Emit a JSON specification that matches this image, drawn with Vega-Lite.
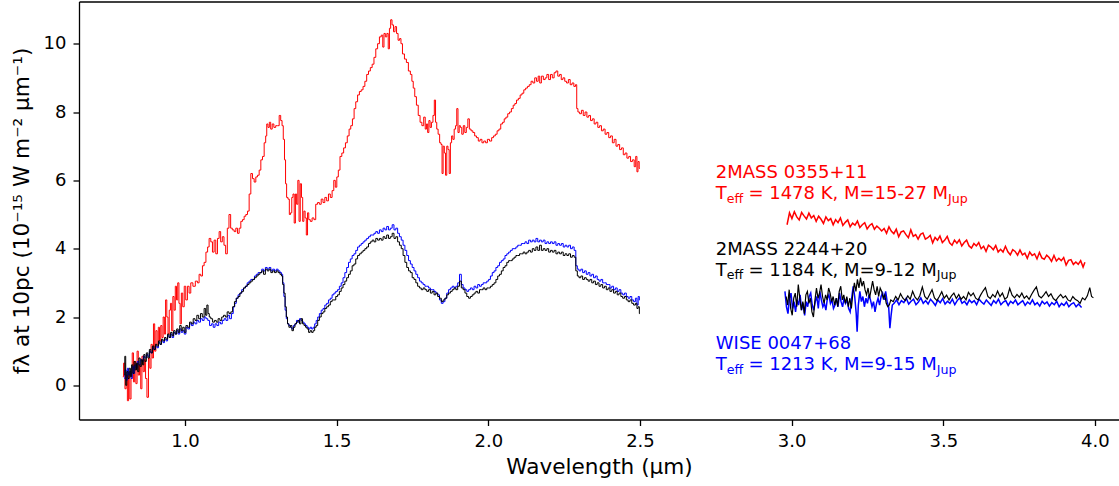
{
  "$schema": "https://vega.github.io/schema/vega-lite/v6.json",
  "autosize": "none",
  "width": 1040,
  "height": 418,
  "padding": {"left": 79, "top": 1.5, "right": 0, "bottom": 66.5},
  "background": "#ffffff",
  "config": {
    "font": "DejaVu Sans",
    "view": {"stroke": null},
    "axis": {"grid": false, "domainColor": "#000000", "domainWidth": 1.3, "tickColor": "#000000", "tickWidth": 1.3, "tickSize": 6, "labelColor": "#000000", "titleColor": "#000000", "labelFont": "DejaVu Sans", "titleFont": "DejaVu Sans", "labelFontSize": 18, "titleFontSize": 21.6, "titleFontWeight": "normal"}
  },
  "datasets": {
    "red_nir": [
      {"x":0.795,"y":0.25},{"x":0.8,"y":0.65},{"x":0.804,"y":-0.1},{"x":0.808,"y":0.3},{"x":0.812,"y":-0.45},{"x":0.816,"y":0.4},{"x":0.82,"y":-0.4},{"x":0.824,"y":0.2},{"x":0.828,"y":0.95},{"x":0.832,"y":0.1},{"x":0.836,"y":0.7},{"x":0.84,"y":0.05},{"x":0.844,"y":1.0},{"x":0.848,"y":0.3},{"x":0.852,"y":0.6},{"x":0.856,"y":-0.1},{"x":0.86,"y":0.85},{"x":0.864,"y":0.4},{"x":0.868,"y":0.75},{"x":0.872,"y":0.2},{"x":0.877,"y":-0.35},{"x":0.882,"y":0.8},{"x":0.886,"y":0.5},{"x":0.89,"y":1.2},{"x":0.894,"y":0.8},{"x":0.898,"y":1.8},{"x":0.902,"y":1.0},{"x":0.906,"y":1.6},{"x":0.91,"y":1.2},{"x":0.914,"y":1.7},{"x":0.918,"y":1.3},{"x":0.922,"y":1.75},{"x":0.926,"y":1.4},{"x":0.93,"y":2.0},{"x":0.934,"y":1.5},{"x":0.938,"y":2.5},{"x":0.942,"y":2.0},{"x":0.946,"y":1.5},{"x":0.95,"y":2.2},{"x":0.954,"y":2.4},{"x":0.958,"y":1.6},{"x":0.962,"y":2.6},{"x":0.966,"y":2.2},{"x":0.97,"y":2.9},{"x":0.974,"y":2.5},{"x":0.978,"y":3.0},{"x":0.982,"y":2.4},{"x":0.986,"y":1.8},{"x":0.99,"y":2.7},{"x":0.995,"y":2.3},{"x":1.0,"y":2.9},
      {"x":1.005,"y":2.5},{"x":1.011,"y":2.9},{"x":1.016,"y":2.7},{"x":1.022,"y":3.0},{"x":1.03,"y":2.9},{"x":1.038,"y":3.05},{"x":1.044,"y":3.0},{"x":1.049,"y":3.25},{"x":1.055,"y":3.2},{"x":1.06,"y":3.5},{"x":1.066,"y":3.6},{"x":1.072,"y":3.9},{"x":1.077,"y":4.05},{"x":1.082,"y":4.3},{"x":1.088,"y":4.2},{"x":1.093,"y":3.9},{"x":1.099,"y":4.25},{"x":1.104,"y":3.85},{"x":1.11,"y":4.3},{"x":1.115,"y":4.5},{"x":1.12,"y":4.2},{"x":1.126,"y":4.35},{"x":1.131,"y":4.1},{"x":1.137,"y":3.85},{"x":1.142,"y":4.6},{"x":1.148,"y":5.0},{"x":1.153,"y":4.6},{"x":1.159,"y":4.55},{"x":1.165,"y":4.5},{"x":1.17,"y":4.6},{"x":1.176,"y":4.45},{"x":1.181,"y":4.6},{"x":1.187,"y":4.8},{"x":1.192,"y":4.85},{"x":1.198,"y":4.95},{"x":1.203,"y":5.0},{"x":1.209,"y":5.1},{"x":1.214,"y":5.6},{"x":1.22,"y":6.2},{"x":1.225,"y":6.05},{"x":1.231,"y":5.95},{"x":1.236,"y":6.1},{"x":1.242,"y":6.15},{"x":1.247,"y":6.3},{"x":1.253,"y":6.6},{"x":1.258,"y":6.7},{"x":1.264,"y":7.1},{"x":1.268,"y":7.3},{"x":1.271,"y":7.65},{"x":1.276,"y":7.55},{"x":1.28,"y":7.7},{"x":1.285,"y":7.5},{"x":1.29,"y":7.65},{"x":1.296,"y":7.55},{"x":1.302,"y":7.6},{"x":1.308,"y":7.6},{"x":1.313,"y":7.9},{"x":1.318,"y":7.75},{"x":1.322,"y":7.6},{"x":1.326,"y":7.2},{"x":1.33,"y":6.6},{"x":1.333,"y":5.9},{"x":1.337,"y":5.5},{"x":1.342,"y":5.45},{"x":1.346,"y":5.0},{"x":1.35,"y":5.05},{"x":1.354,"y":5.5},{"x":1.358,"y":5.6},{"x":1.362,"y":4.75},{"x":1.366,"y":5.6},{"x":1.37,"y":5.3},{"x":1.374,"y":6.0},{"x":1.378,"y":4.8},{"x":1.382,"y":5.9},{"x":1.386,"y":5.5},{"x":1.39,"y":4.8},{"x":1.394,"y":5.1},{"x":1.398,"y":4.9},{"x":1.402,"y":4.4},{"x":1.406,"y":5.05},{"x":1.41,"y":4.85},{"x":1.416,"y":4.8},{"x":1.422,"y":4.9},{"x":1.428,"y":4.85},{"x":1.434,"y":5.3},{"x":1.44,"y":5.35},{"x":1.446,"y":5.3},{"x":1.452,"y":5.45},{"x":1.458,"y":5.35},{"x":1.464,"y":5.5},{"x":1.47,"y":5.4},{"x":1.476,"y":5.6},{"x":1.482,"y":5.5},{"x":1.488,"y":5.7},{"x":1.493,"y":6.0},{"x":1.498,"y":5.8},{"x":1.503,"y":6.1},{"x":1.508,"y":6.3},{"x":1.514,"y":6.7},{"x":1.52,"y":6.8},{"x":1.526,"y":6.95},{"x":1.532,"y":7.1},{"x":1.538,"y":7.3},{"x":1.544,"y":7.5},{"x":1.549,"y":7.6},{"x":1.555,"y":7.8},{"x":1.56,"y":8.1},{"x":1.566,"y":8.3},{"x":1.572,"y":8.5},{"x":1.578,"y":8.6},{"x":1.584,"y":8.65},{"x":1.59,"y":8.75},{"x":1.596,"y":8.9},{"x":1.602,"y":9.1},{"x":1.608,"y":9.2},{"x":1.614,"y":9.3},{"x":1.62,"y":9.4},{"x":1.626,"y":9.6},{"x":1.632,"y":9.85},{"x":1.638,"y":10.0},{"x":1.644,"y":10.2},{"x":1.65,"y":10.25},{"x":1.654,"y":9.9},{"x":1.658,"y":10.3},{"x":1.663,"y":10.2},{"x":1.668,"y":10.3},{"x":1.672,"y":9.85},{"x":1.676,"y":10.45},{"x":1.68,"y":10.7},{"x":1.685,"y":10.55},{"x":1.69,"y":10.35},{"x":1.695,"y":10.5},{"x":1.7,"y":10.3},{"x":1.705,"y":10.1},{"x":1.71,"y":10.15},{"x":1.714,"y":10.0},{"x":1.72,"y":9.7},{"x":1.727,"y":9.55},{"x":1.733,"y":9.45},{"x":1.74,"y":9.2},{"x":1.746,"y":9.1},{"x":1.75,"y":8.9},{"x":1.755,"y":8.7},{"x":1.76,"y":8.45},{"x":1.766,"y":8.2},{"x":1.772,"y":7.9},{"x":1.778,"y":7.7},{"x":1.784,"y":7.6},{"x":1.79,"y":7.85},{"x":1.794,"y":7.5},{"x":1.798,"y":7.65},{"x":1.802,"y":7.4},{"x":1.806,"y":7.75},{"x":1.81,"y":7.55},{"x":1.815,"y":7.7},{"x":1.82,"y":7.9},{"x":1.824,"y":8.35},{"x":1.828,"y":7.7},{"x":1.832,"y":7.5},{"x":1.837,"y":7.35},{"x":1.842,"y":7.1},{"x":1.846,"y":7.05},{"x":1.849,"y":6.2},{"x":1.853,"y":7.0},{"x":1.857,"y":6.8},{"x":1.861,"y":6.15},{"x":1.865,"y":7.0},{"x":1.869,"y":6.9},{"x":1.873,"y":6.2},{"x":1.877,"y":7.1},{"x":1.881,"y":7.3},{"x":1.885,"y":7.2},{"x":1.89,"y":7.5},{"x":1.894,"y":7.6},{"x":1.898,"y":8.1},{"x":1.902,"y":7.4},{"x":1.906,"y":7.6},{"x":1.91,"y":7.55},{"x":1.915,"y":7.35},{"x":1.92,"y":7.6},{"x":1.925,"y":7.4},{"x":1.93,"y":7.55},{"x":1.935,"y":7.8},{"x":1.94,"y":7.5},{"x":1.946,"y":7.45},{"x":1.952,"y":7.4},{"x":1.958,"y":7.3},{"x":1.964,"y":7.25},{"x":1.97,"y":7.15},{"x":1.976,"y":7.2},{"x":1.982,"y":7.1},{"x":1.988,"y":7.15},{"x":1.994,"y":7.1},{"x":2.0,"y":7.2},{"x":2.008,"y":7.15},{"x":2.014,"y":7.25},{"x":2.02,"y":7.3},{"x":2.026,"y":7.35},{"x":2.032,"y":7.45},{"x":2.038,"y":7.5},{"x":2.044,"y":7.65},{"x":2.05,"y":7.7},{"x":2.055,"y":7.8},{"x":2.061,"y":7.85},{"x":2.067,"y":7.95},{"x":2.073,"y":8.0},{"x":2.079,"y":8.1},{"x":2.085,"y":8.2},{"x":2.09,"y":8.25},{"x":2.096,"y":8.35},{"x":2.102,"y":8.4},{"x":2.108,"y":8.5},{"x":2.114,"y":8.55},{"x":2.12,"y":8.65},{"x":2.126,"y":8.7},{"x":2.132,"y":8.75},{"x":2.138,"y":8.8},{"x":2.144,"y":8.9},{"x":2.15,"y":8.85},{"x":2.156,"y":9.0},{"x":2.162,"y":8.9},{"x":2.167,"y":9.05},{"x":2.172,"y":8.85},{"x":2.178,"y":9.05},{"x":2.185,"y":8.95},{"x":2.19,"y":9.0},{"x":2.196,"y":9.1},{"x":2.202,"y":8.95},{"x":2.208,"y":9.1},{"x":2.214,"y":9.0},{"x":2.22,"y":9.15},{"x":2.226,"y":9.2},{"x":2.232,"y":9.05},{"x":2.238,"y":9.1},{"x":2.243,"y":8.95},{"x":2.249,"y":9.0},{"x":2.255,"y":8.9},{"x":2.261,"y":8.85},{"x":2.267,"y":8.95},{"x":2.273,"y":8.8},{"x":2.279,"y":8.85},{"x":2.285,"y":8.75},{"x":2.29,"y":8.8},{"x":2.293,"y":8.1},{"x":2.298,"y":8.0},{"x":2.304,"y":7.95},{"x":2.31,"y":8.05},{"x":2.316,"y":7.9},{"x":2.322,"y":8.0},{"x":2.328,"y":7.85},{"x":2.334,"y":7.9},{"x":2.34,"y":7.75},{"x":2.346,"y":7.8},{"x":2.352,"y":7.65},{"x":2.358,"y":7.7},{"x":2.364,"y":7.55},{"x":2.37,"y":7.6},{"x":2.376,"y":7.45},{"x":2.382,"y":7.5},{"x":2.388,"y":7.35},{"x":2.394,"y":7.4},{"x":2.4,"y":7.25},{"x":2.406,"y":7.3},{"x":2.412,"y":7.1},{"x":2.418,"y":7.2},{"x":2.424,"y":7.0},{"x":2.43,"y":7.05},{"x":2.436,"y":6.9},{"x":2.442,"y":6.95},{"x":2.448,"y":6.75},{"x":2.454,"y":6.8},{"x":2.46,"y":6.65},{"x":2.466,"y":6.7},{"x":2.472,"y":6.55},{"x":2.478,"y":6.6},{"x":2.484,"y":6.4},{"x":2.488,"y":6.7},{"x":2.492,"y":6.25},{"x":2.495,"y":6.55},{"x":2.5,"y":6.35}
    ],
    "red_l": [
      {"x":2.985,"y":4.7},{"x":2.993,"y":5.05},{"x":3.001,"y":4.88},{"x":3.009,"y":5.08},{"x":3.017,"y":4.93},{"x":3.025,"y":4.84},{"x":3.033,"y":5.06},{"x":3.041,"y":4.96},{"x":3.049,"y":4.87},{"x":3.057,"y":5.04},{"x":3.065,"y":4.9},{"x":3.073,"y":4.97},{"x":3.081,"y":4.8},{"x":3.089,"y":4.95},{"x":3.097,"y":4.86},{"x":3.105,"y":4.74},{"x":3.113,"y":4.93},{"x":3.121,"y":4.82},{"x":3.129,"y":4.88},{"x":3.137,"y":4.7},{"x":3.145,"y":4.85},{"x":3.153,"y":4.76},{"x":3.161,"y":4.9},{"x":3.169,"y":4.68},{"x":3.177,"y":4.77},{"x":3.185,"y":4.84},{"x":3.193,"y":4.64},{"x":3.201,"y":4.75},{"x":3.209,"y":4.69},{"x":3.217,"y":4.81},{"x":3.225,"y":4.62},{"x":3.233,"y":4.7},{"x":3.241,"y":4.76},{"x":3.249,"y":4.58},{"x":3.257,"y":4.68},{"x":3.265,"y":4.73},{"x":3.273,"y":4.57},{"x":3.281,"y":4.66},{"x":3.289,"y":4.6},{"x":3.297,"y":4.52},
      {"x":3.305,"y":4.59},{"x":3.313,"y":4.45},{"x":3.321,"y":4.64},{"x":3.329,"y":4.51},{"x":3.337,"y":4.44},{"x":3.345,"y":4.57},{"x":3.353,"y":4.35},{"x":3.361,"y":4.49},{"x":3.369,"y":4.52},{"x":3.377,"y":4.41},{"x":3.385,"y":4.32},{"x":3.393,"y":4.55},{"x":3.401,"y":4.36},{"x":3.409,"y":4.41},{"x":3.417,"y":4.28},{"x":3.425,"y":4.42},{"x":3.433,"y":4.46},{"x":3.441,"y":4.28},{"x":3.449,"y":4.32},{"x":3.457,"y":4.39},{"x":3.465,"y":4.17},{"x":3.473,"y":4.33},{"x":3.481,"y":4.25},{"x":3.489,"y":4.37},{"x":3.497,"y":4.18},{"x":3.505,"y":4.25},{"x":3.513,"y":4.36},{"x":3.521,"y":4.17},{"x":3.529,"y":4.1},{"x":3.537,"y":4.25},{"x":3.545,"y":4.16},{"x":3.553,"y":4.26},{"x":3.561,"y":4.08},{"x":3.569,"y":4.18},{"x":3.577,"y":4.25},{"x":3.585,"y":4.08},{"x":3.593,"y":4.02},{"x":3.601,"y":4.15},{"x":3.609,"y":4.08},{"x":3.617,"y":4.18},{"x":3.625,"y":4.0},{"x":3.633,"y":4.07},{"x":3.641,"y":3.92},{"x":3.649,"y":4.1},{"x":3.657,"y":4.05},{"x":3.665,"y":3.97},{"x":3.673,"y":4.09},{"x":3.681,"y":3.9},{"x":3.689,"y":3.98},{"x":3.697,"y":3.9},{"x":3.705,"y":4.07},{"x":3.713,"y":3.91},{"x":3.721,"y":3.82},{"x":3.729,"y":3.97},{"x":3.737,"y":3.92},{"x":3.745,"y":3.81},{"x":3.753,"y":3.96},{"x":3.761,"y":3.82},{"x":3.769,"y":3.87},{"x":3.777,"y":3.72},{"x":3.785,"y":3.9},{"x":3.793,"y":3.8},{"x":3.801,"y":3.85},{"x":3.809,"y":3.7},{"x":3.817,"y":3.89},{"x":3.825,"y":3.73},{"x":3.833,"y":3.69},{"x":3.841,"y":3.81},{"x":3.849,"y":3.74},{"x":3.857,"y":3.63},{"x":3.865,"y":3.8},{"x":3.873,"y":3.64},{"x":3.881,"y":3.72},{"x":3.889,"y":3.65},{"x":3.897,"y":3.74},{"x":3.905,"y":3.52},{"x":3.913,"y":3.66},{"x":3.921,"y":3.68},{"x":3.929,"y":3.54},{"x":3.937,"y":3.61},{"x":3.945,"y":3.54},{"x":3.953,"y":3.65},{"x":3.961,"y":3.46},{"x":3.967,"y":3.6}
    ],
    "black_nir": [
      {"x":0.8,"y":0.3},{"x":0.803,"y":0.85},{"x":0.806,"y":0.0},{"x":0.81,"y":0.4},{"x":0.814,"y":0.2},{"x":0.818,"y":0.5},{"x":0.822,"y":0.25},{"x":0.826,"y":0.6},{"x":0.83,"y":0.35},{"x":0.834,"y":0.7},{"x":0.838,"y":0.45},{"x":0.842,"y":0.65},{"x":0.846,"y":0.4},{"x":0.85,"y":0.8},{"x":0.854,"y":0.55},{"x":0.858,"y":0.75},{"x":0.862,"y":0.6},{"x":0.866,"y":0.9},{"x":0.87,"y":0.7},{"x":0.875,"y":0.95},{"x":0.88,"y":0.8},{"x":0.885,"y":1.05},{"x":0.89,"y":0.95},{"x":0.895,"y":1.15},{"x":0.9,"y":1.05},{"x":0.905,"y":1.2},{"x":0.91,"y":1.15},{"x":0.915,"y":1.3},{"x":0.92,"y":1.2},{"x":0.925,"y":1.35},{"x":0.93,"y":1.3},{"x":0.935,"y":1.4},{"x":0.94,"y":1.35},{"x":0.945,"y":1.5},{"x":0.95,"y":1.4},{"x":0.955,"y":1.55},{"x":0.96,"y":1.45},{"x":0.965,"y":1.6},{"x":0.97,"y":1.5},{"x":0.975,"y":1.65},{"x":0.98,"y":1.55},{"x":0.985,"y":1.75},{"x":0.99,"y":1.6},{"x":0.995,"y":1.7},{"x":1.0,"y":1.55},{"x":1.006,"y":1.75},{"x":1.012,"y":1.7},{"x":1.018,"y":1.85},{"x":1.024,"y":1.8},{"x":1.03,"y":1.95},{"x":1.036,"y":1.9},{"x":1.042,"y":2.05},{"x":1.048,"y":1.95},{"x":1.054,"y":2.1},{"x":1.06,"y":2.0},{"x":1.066,"y":2.25},{"x":1.07,"y":2.05},{"x":1.074,"y":2.35},{"x":1.078,"y":2.1},{"x":1.082,"y":2.0},{"x":1.088,"y":1.95},{"x":1.094,"y":1.85},{"x":1.1,"y":1.9},{"x":1.106,"y":1.85},{"x":1.112,"y":1.95},{"x":1.118,"y":1.9},{"x":1.124,"y":2.0},{"x":1.13,"y":2.05},{"x":1.136,"y":2.0},{"x":1.142,"y":2.15},{"x":1.148,"y":2.1},{"x":1.154,"y":2.15},{"x":1.16,"y":2.3},{"x":1.166,"y":2.45},{"x":1.172,"y":2.55},{"x":1.178,"y":2.6},{"x":1.184,"y":2.7},{"x":1.19,"y":2.75},{"x":1.196,"y":2.85},{"x":1.202,"y":2.9},{"x":1.208,"y":2.95},{"x":1.214,"y":3.0},{"x":1.22,"y":3.05},{"x":1.226,"y":3.1},{"x":1.232,"y":3.15},{"x":1.238,"y":3.2},{"x":1.244,"y":3.25},{"x":1.25,"y":3.3},{"x":1.256,"y":3.35},{"x":1.262,"y":3.25},{"x":1.268,"y":3.4},{"x":1.274,"y":3.35},{"x":1.28,"y":3.4},{"x":1.286,"y":3.3},{"x":1.292,"y":3.35},{"x":1.298,"y":3.3},{"x":1.304,"y":3.35},{"x":1.31,"y":3.3},{"x":1.316,"y":3.25},{"x":1.32,"y":3.2},{"x":1.324,"y":2.95},{"x":1.328,"y":2.7},{"x":1.332,"y":2.3},{"x":1.336,"y":2.0},{"x":1.34,"y":1.8},{"x":1.345,"y":1.7},{"x":1.35,"y":1.75},{"x":1.355,"y":1.6},{"x":1.36,"y":1.7},{"x":1.365,"y":1.8},{"x":1.37,"y":1.85},{"x":1.375,"y":1.9},{"x":1.38,"y":1.8},{"x":1.385,"y":1.95},{"x":1.39,"y":1.8},{"x":1.395,"y":1.75},{"x":1.4,"y":1.7},{"x":1.405,"y":1.65},{"x":1.41,"y":1.55},{"x":1.415,"y":1.6},{"x":1.42,"y":1.55},{"x":1.425,"y":1.6},{"x":1.43,"y":1.7},{"x":1.435,"y":1.75},{"x":1.44,"y":1.9},{"x":1.446,"y":2.0},{"x":1.452,"y":2.1},{"x":1.458,"y":2.15},{"x":1.464,"y":2.25},{"x":1.47,"y":2.3},{"x":1.476,"y":2.35},{"x":1.482,"y":2.45},{"x":1.488,"y":2.5},{"x":1.494,"y":2.5},{"x":1.5,"y":2.6},{"x":1.506,"y":2.65},{"x":1.512,"y":2.75},{"x":1.518,"y":2.85},{"x":1.524,"y":2.95},{"x":1.53,"y":3.05},{"x":1.536,"y":3.15},{"x":1.542,"y":3.25},{"x":1.548,"y":3.35},{"x":1.554,"y":3.5},{"x":1.56,"y":3.55},{"x":1.566,"y":3.7},{"x":1.572,"y":3.8},{"x":1.578,"y":3.85},{"x":1.584,"y":3.9},{"x":1.59,"y":3.95},{"x":1.596,"y":4.0},{"x":1.602,"y":4.05},{"x":1.608,"y":4.15},{"x":1.614,"y":4.2},{"x":1.62,"y":4.25},{"x":1.626,"y":4.2},{"x":1.632,"y":4.3},{"x":1.638,"y":4.25},{"x":1.644,"y":4.3},{"x":1.65,"y":4.25},{"x":1.656,"y":4.35},{"x":1.662,"y":4.3},{"x":1.668,"y":4.4},{"x":1.674,"y":4.3},{"x":1.68,"y":4.35},{"x":1.686,"y":4.45},{"x":1.692,"y":4.3},{"x":1.698,"y":4.35},{"x":1.704,"y":4.2},{"x":1.71,"y":4.1},{"x":1.716,"y":4.0},{"x":1.722,"y":3.8},{"x":1.728,"y":3.6},{"x":1.734,"y":3.45},{"x":1.74,"y":3.35},{"x":1.746,"y":3.3},{"x":1.752,"y":3.15},{"x":1.758,"y":3.1},{"x":1.764,"y":3.0},{"x":1.77,"y":2.9},{"x":1.776,"y":2.85},{"x":1.782,"y":2.8},{"x":1.788,"y":2.85},{"x":1.794,"y":2.8},{"x":1.8,"y":2.75},{"x":1.806,"y":2.8},{"x":1.812,"y":2.7},{"x":1.818,"y":2.75},{"x":1.824,"y":2.65},{"x":1.83,"y":2.7},{"x":1.836,"y":2.6},{"x":1.842,"y":2.55},{"x":1.848,"y":2.45},{"x":1.854,"y":2.5},{"x":1.86,"y":2.55},{"x":1.866,"y":2.65},{"x":1.872,"y":2.7},{"x":1.878,"y":2.75},{"x":1.884,"y":2.8},{"x":1.89,"y":2.85},{"x":1.896,"y":2.8},{"x":1.902,"y":2.9},{"x":1.908,"y":3.05},{"x":1.914,"y":2.85},{"x":1.92,"y":2.8},{"x":1.926,"y":2.7},{"x":1.932,"y":2.6},{"x":1.938,"y":2.55},{"x":1.944,"y":2.6},{"x":1.95,"y":2.65},{"x":1.956,"y":2.7},{"x":1.962,"y":2.75},{"x":1.968,"y":2.7},{"x":1.974,"y":2.8},{"x":1.98,"y":2.8},{"x":1.986,"y":2.85},{"x":1.992,"y":2.8},{"x":1.998,"y":2.85},{"x":2.004,"y":2.85},{"x":2.01,"y":2.9},{"x":2.016,"y":2.95},{"x":2.022,"y":3.0},{"x":2.028,"y":3.1},{"x":2.034,"y":3.2},{"x":2.04,"y":3.25},{"x":2.046,"y":3.35},{"x":2.052,"y":3.45},{"x":2.058,"y":3.5},{"x":2.064,"y":3.6},{"x":2.07,"y":3.65},{"x":2.076,"y":3.65},{"x":2.082,"y":3.7},{"x":2.088,"y":3.75},{"x":2.094,"y":3.8},{"x":2.1,"y":3.8},{"x":2.106,"y":3.85},{"x":2.112,"y":3.85},{"x":2.118,"y":3.9},{"x":2.124,"y":3.85},{"x":2.13,"y":3.9},{"x":2.136,"y":3.95},{"x":2.142,"y":3.9},{"x":2.148,"y":4.0},{"x":2.154,"y":3.95},{"x":2.16,"y":4.05},{"x":2.166,"y":3.95},{"x":2.172,"y":4.1},{"x":2.178,"y":3.95},{"x":2.184,"y":4.0},{"x":2.19,"y":3.95},{"x":2.196,"y":4.0},{"x":2.202,"y":3.9},{"x":2.208,"y":3.95},{"x":2.214,"y":3.9},{"x":2.22,"y":3.95},{"x":2.226,"y":3.85},{"x":2.232,"y":3.9},{"x":2.238,"y":3.85},{"x":2.244,"y":3.9},{"x":2.25,"y":3.8},{"x":2.256,"y":3.85},{"x":2.262,"y":3.8},{"x":2.268,"y":3.85},{"x":2.274,"y":3.75},{"x":2.28,"y":3.8},{"x":2.286,"y":3.75},{"x":2.291,"y":3.35},{"x":2.296,"y":3.2},{"x":2.302,"y":3.15},{"x":2.308,"y":3.2},{"x":2.314,"y":3.1},{"x":2.32,"y":3.15},{"x":2.326,"y":3.1},{"x":2.332,"y":3.05},{"x":2.338,"y":3.1},{"x":2.344,"y":3.0},{"x":2.35,"y":3.05},{"x":2.356,"y":2.95},{"x":2.362,"y":3.0},{"x":2.368,"y":2.9},{"x":2.374,"y":2.95},{"x":2.38,"y":2.85},{"x":2.386,"y":2.9},{"x":2.392,"y":2.8},{"x":2.398,"y":2.85},{"x":2.404,"y":2.75},{"x":2.41,"y":2.8},{"x":2.416,"y":2.7},{"x":2.422,"y":2.75},{"x":2.428,"y":2.65},{"x":2.434,"y":2.7},{"x":2.44,"y":2.6},{"x":2.446,"y":2.55},{"x":2.452,"y":2.6},{"x":2.458,"y":2.5},{"x":2.464,"y":2.45},{"x":2.47,"y":2.5},{"x":2.476,"y":2.4},{"x":2.482,"y":2.35},{"x":2.488,"y":2.4},{"x":2.492,"y":2.25},{"x":2.496,"y":2.3},{"x":2.5,"y":2.1}
    ],
    "black_l": [
      {"x":2.982,"y":2.6},{"x":2.987,"y":2.35},{"x":2.992,"y":2.8},{"x":2.997,"y":2.25},{"x":3.002,"y":2.05},{"x":3.007,"y":2.55},{"x":3.012,"y":2.7},{"x":3.017,"y":2.3},{"x":3.022,"y":2.95},{"x":3.027,"y":2.55},{"x":3.032,"y":2.2},{"x":3.037,"y":2.45},{"x":3.042,"y":2.1},{"x":3.047,"y":2.65},{"x":3.052,"y":2.75},{"x":3.057,"y":2.4},{"x":3.062,"y":2.55},{"x":3.067,"y":2.15},{"x":3.072,"y":2.0},{"x":3.077,"y":2.5},{"x":3.082,"y":2.85},{"x":3.087,"y":2.55},{"x":3.092,"y":2.7},{"x":3.097,"y":2.95},{"x":3.102,"y":2.6},{"x":3.107,"y":2.4},{"x":3.112,"y":2.65},{"x":3.117,"y":2.5},{"x":3.122,"y":2.85},{"x":3.127,"y":2.7},{"x":3.132,"y":2.45},{"x":3.137,"y":2.6},{"x":3.142,"y":2.35},{"x":3.147,"y":2.55},{"x":3.152,"y":2.3},{"x":3.157,"y":2.75},{"x":3.162,"y":2.9},{"x":3.167,"y":2.5},{"x":3.172,"y":2.65},{"x":3.177,"y":2.4},{"x":3.182,"y":2.6},{"x":3.187,"y":2.3},{"x":3.192,"y":2.55},{"x":3.197,"y":2.25},{"x":3.202,"y":2.7},{"x":3.207,"y":3.0},{"x":3.212,"y":2.75},{"x":3.217,"y":3.1},{"x":3.222,"y":2.85},{"x":3.227,"y":3.15},{"x":3.232,"y":2.9},{"x":3.237,"y":3.05},{"x":3.242,"y":2.8},{"x":3.247,"y":2.65},{"x":3.252,"y":2.85},{"x":3.257,"y":2.55},{"x":3.262,"y":2.8},{"x":3.267,"y":3.05},{"x":3.272,"y":2.8},{"x":3.277,"y":2.65},{"x":3.282,"y":2.9},{"x":3.287,"y":2.6},{"x":3.292,"y":2.85},{"x":3.297,"y":2.75},{"x":3.302,"y":2.55},{"x":3.307,"y":2.65},{"x":3.312,"y":2.4},{"x":3.317,"y":2.3},{"x":3.322,"y":2.35},{"x":3.327,"y":2.5},
      {"x":3.335,"y":2.45},{"x":3.343,"y":2.6},{"x":3.351,"y":2.5},{"x":3.359,"y":2.68},{"x":3.367,"y":2.55},{"x":3.375,"y":2.48},{"x":3.383,"y":2.62},{"x":3.391,"y":2.52},{"x":3.399,"y":2.75},{"x":3.407,"y":2.58},{"x":3.415,"y":2.5},{"x":3.423,"y":2.63},{"x":3.431,"y":2.88},{"x":3.439,"y":2.6},{"x":3.447,"y":2.52},{"x":3.455,"y":2.66},{"x":3.463,"y":2.8},{"x":3.471,"y":2.56},{"x":3.479,"y":2.48},{"x":3.487,"y":2.6},{"x":3.495,"y":2.74},{"x":3.503,"y":2.55},{"x":3.511,"y":2.64},{"x":3.519,"y":2.5},{"x":3.527,"y":2.62},{"x":3.535,"y":2.7},{"x":3.543,"y":2.54},{"x":3.551,"y":2.66},{"x":3.559,"y":2.52},{"x":3.567,"y":2.6},{"x":3.575,"y":2.5},{"x":3.583,"y":2.72},{"x":3.591,"y":2.62},{"x":3.599,"y":2.7},{"x":3.607,"y":2.55},{"x":3.615,"y":2.5},{"x":3.623,"y":2.64},{"x":3.631,"y":2.76},{"x":3.639,"y":2.86},{"x":3.647,"y":2.6},{"x":3.655,"y":2.54},{"x":3.663,"y":2.66},{"x":3.671,"y":2.58},{"x":3.679,"y":2.76},{"x":3.687,"y":2.6},{"x":3.695,"y":2.7},{"x":3.703,"y":2.52},{"x":3.711,"y":2.58},{"x":3.719,"y":2.84},{"x":3.727,"y":2.64},{"x":3.735,"y":2.56},{"x":3.743,"y":2.66},{"x":3.751,"y":2.58},{"x":3.759,"y":2.7},{"x":3.767,"y":2.55},{"x":3.775,"y":2.62},{"x":3.783,"y":2.52},{"x":3.791,"y":2.66},{"x":3.799,"y":2.78},{"x":3.807,"y":2.88},{"x":3.815,"y":2.62},{"x":3.823,"y":2.56},{"x":3.831,"y":2.64},{"x":3.839,"y":2.74},{"x":3.847,"y":2.6},{"x":3.855,"y":2.68},{"x":3.863,"y":2.54},{"x":3.871,"y":2.48},{"x":3.879,"y":2.58},{"x":3.887,"y":2.66},{"x":3.895,"y":2.56},{"x":3.903,"y":2.62},{"x":3.911,"y":2.5},{"x":3.919,"y":2.46},{"x":3.927,"y":2.6},{"x":3.935,"y":2.52},{"x":3.943,"y":2.48},{"x":3.951,"y":2.4},{"x":3.959,"y":2.56},{"x":3.967,"y":2.5},{"x":3.975,"y":2.62},{"x":3.983,"y":2.86},{"x":3.989,"y":2.6},{"x":3.995,"y":2.56}
    ],
    "blue_nir": [
      {"x":0.8,"y":0.2},{"x":0.804,"y":0.45},{"x":0.808,"y":0.15},{"x":0.812,"y":0.5},{"x":0.816,"y":0.3},{"x":0.82,"y":0.4},{"x":0.824,"y":0.2},{"x":0.828,"y":0.55},{"x":0.832,"y":0.35},{"x":0.836,"y":0.6},{"x":0.84,"y":0.5},{"x":0.845,"y":0.7},{"x":0.85,"y":0.6},{"x":0.855,"y":0.75},{"x":0.86,"y":0.7},{"x":0.865,"y":0.85},{"x":0.87,"y":0.8},{"x":0.875,"y":0.9},{"x":0.88,"y":0.85},{"x":0.885,"y":1.0},{"x":0.89,"y":0.95},{"x":0.895,"y":1.1},{"x":0.9,"y":1.05},{"x":0.905,"y":1.15},{"x":0.91,"y":1.1},{"x":0.915,"y":1.25},{"x":0.92,"y":1.2},{"x":0.925,"y":1.3},{"x":0.93,"y":1.25},{"x":0.935,"y":1.35},{"x":0.94,"y":1.3},{"x":0.945,"y":1.45},{"x":0.95,"y":1.4},{"x":0.955,"y":1.5},{"x":0.96,"y":1.4},{"x":0.965,"y":1.55},{"x":0.97,"y":1.5},{"x":0.975,"y":1.6},{"x":0.98,"y":1.5},{"x":0.985,"y":1.65},{"x":0.99,"y":1.55},{"x":0.995,"y":1.6},{"x":1.0,"y":1.5},{"x":1.006,"y":1.7},{"x":1.012,"y":1.65},{"x":1.018,"y":1.8},{"x":1.024,"y":1.75},{"x":1.03,"y":1.85},{"x":1.036,"y":1.8},{"x":1.042,"y":1.9},{"x":1.048,"y":1.85},{"x":1.054,"y":1.95},{"x":1.06,"y":1.9},{"x":1.066,"y":2.0},{"x":1.072,"y":1.95},{"x":1.078,"y":1.9},{"x":1.084,"y":1.75},{"x":1.09,"y":1.8},{"x":1.096,"y":1.7},{"x":1.102,"y":1.8},{"x":1.108,"y":1.75},{"x":1.114,"y":1.85},{"x":1.12,"y":1.8},{"x":1.126,"y":1.9},{"x":1.132,"y":1.95},{"x":1.138,"y":1.9},{"x":1.144,"y":2.05},{"x":1.15,"y":1.95},{"x":1.156,"y":2.1},{"x":1.162,"y":2.3},{"x":1.166,"y":2.4},{"x":1.172,"y":2.55},{"x":1.178,"y":2.65},{"x":1.184,"y":2.7},{"x":1.19,"y":2.8},{"x":1.196,"y":2.85},{"x":1.202,"y":2.9},{"x":1.208,"y":3.0},{"x":1.214,"y":3.05},{"x":1.22,"y":3.1},{"x":1.226,"y":3.1},{"x":1.232,"y":3.2},{"x":1.238,"y":3.25},{"x":1.244,"y":3.3},{"x":1.25,"y":3.3},{"x":1.256,"y":3.4},{"x":1.262,"y":3.35},{"x":1.268,"y":3.45},{"x":1.274,"y":3.4},{"x":1.28,"y":3.45},{"x":1.286,"y":3.35},{"x":1.292,"y":3.4},{"x":1.298,"y":3.35},{"x":1.304,"y":3.4},{"x":1.31,"y":3.35},{"x":1.316,"y":3.3},{"x":1.32,"y":3.25},{"x":1.324,"y":3.0},{"x":1.328,"y":2.6},{"x":1.332,"y":2.2},{"x":1.336,"y":1.95},{"x":1.34,"y":1.8},{"x":1.345,"y":1.75},{"x":1.35,"y":1.7},{"x":1.355,"y":1.65},{"x":1.36,"y":1.75},{"x":1.365,"y":1.8},{"x":1.37,"y":1.9},{"x":1.375,"y":1.85},{"x":1.38,"y":1.95},{"x":1.385,"y":1.9},{"x":1.39,"y":1.85},{"x":1.395,"y":1.8},{"x":1.4,"y":1.75},{"x":1.405,"y":1.7},{"x":1.41,"y":1.65},{"x":1.415,"y":1.7},{"x":1.42,"y":1.65},{"x":1.425,"y":1.7},{"x":1.43,"y":1.8},{"x":1.435,"y":1.9},{"x":1.44,"y":2.0},{"x":1.446,"y":2.1},{"x":1.452,"y":2.2},{"x":1.458,"y":2.25},{"x":1.464,"y":2.35},{"x":1.47,"y":2.4},{"x":1.476,"y":2.5},{"x":1.482,"y":2.55},{"x":1.488,"y":2.65},{"x":1.494,"y":2.7},{"x":1.5,"y":2.75},{"x":1.506,"y":2.8},{"x":1.512,"y":2.9},{"x":1.518,"y":3.0},{"x":1.524,"y":3.15},{"x":1.53,"y":3.3},{"x":1.536,"y":3.45},{"x":1.542,"y":3.6},{"x":1.548,"y":3.7},{"x":1.554,"y":3.8},{"x":1.56,"y":3.85},{"x":1.566,"y":3.95},{"x":1.572,"y":4.05},{"x":1.578,"y":4.1},{"x":1.584,"y":4.15},{"x":1.59,"y":4.2},{"x":1.596,"y":4.25},{"x":1.602,"y":4.3},{"x":1.608,"y":4.35},{"x":1.614,"y":4.4},{"x":1.62,"y":4.4},{"x":1.626,"y":4.45},{"x":1.632,"y":4.5},{"x":1.638,"y":4.45},{"x":1.644,"y":4.55},{"x":1.65,"y":4.5},{"x":1.656,"y":4.6},{"x":1.662,"y":4.55},{"x":1.668,"y":4.65},{"x":1.674,"y":4.55},{"x":1.68,"y":4.6},{"x":1.686,"y":4.7},{"x":1.692,"y":4.55},{"x":1.698,"y":4.6},{"x":1.704,"y":4.45},{"x":1.71,"y":4.35},{"x":1.716,"y":4.25},{"x":1.722,"y":4.1},{"x":1.728,"y":3.95},{"x":1.734,"y":3.8},{"x":1.74,"y":3.65},{"x":1.746,"y":3.55},{"x":1.752,"y":3.45},{"x":1.758,"y":3.35},{"x":1.764,"y":3.25},{"x":1.77,"y":3.15},{"x":1.776,"y":3.05},{"x":1.782,"y":3.0},{"x":1.788,"y":2.95},{"x":1.794,"y":2.9},{"x":1.8,"y":2.9},{"x":1.806,"y":2.85},{"x":1.812,"y":2.8},{"x":1.818,"y":2.8},{"x":1.824,"y":2.75},{"x":1.83,"y":2.7},{"x":1.836,"y":2.65},{"x":1.842,"y":2.5},{"x":1.848,"y":2.4},{"x":1.854,"y":2.45},{"x":1.86,"y":2.55},{"x":1.866,"y":2.7},{"x":1.872,"y":2.8},{"x":1.878,"y":2.85},{"x":1.884,"y":2.9},{"x":1.89,"y":2.85},{"x":1.896,"y":2.9},{"x":1.902,"y":3.0},{"x":1.908,"y":3.25},{"x":1.914,"y":2.95},{"x":1.92,"y":2.85},{"x":1.926,"y":2.8},{"x":1.932,"y":2.75},{"x":1.938,"y":2.8},{"x":1.944,"y":2.85},{"x":1.95,"y":2.8},{"x":1.956,"y":2.9},{"x":1.962,"y":2.85},{"x":1.968,"y":2.95},{"x":1.974,"y":2.9},{"x":1.98,"y":2.95},{"x":1.986,"y":3.0},{"x":1.992,"y":3.0},{"x":1.998,"y":3.05},{"x":2.004,"y":3.1},{"x":2.01,"y":3.2},{"x":2.016,"y":3.3},{"x":2.022,"y":3.35},{"x":2.028,"y":3.45},{"x":2.034,"y":3.5},{"x":2.04,"y":3.6},{"x":2.046,"y":3.65},{"x":2.052,"y":3.7},{"x":2.058,"y":3.8},{"x":2.064,"y":3.85},{"x":2.07,"y":3.9},{"x":2.076,"y":3.95},{"x":2.082,"y":4.0},{"x":2.088,"y":4.0},{"x":2.094,"y":4.05},{"x":2.1,"y":4.1},{"x":2.106,"y":4.1},{"x":2.112,"y":4.15},{"x":2.118,"y":4.15},{"x":2.124,"y":4.2},{"x":2.13,"y":4.15},{"x":2.136,"y":4.25},{"x":2.142,"y":4.2},{"x":2.148,"y":4.25},{"x":2.154,"y":4.2},{"x":2.16,"y":4.3},{"x":2.166,"y":4.2},{"x":2.172,"y":4.25},{"x":2.178,"y":4.2},{"x":2.184,"y":4.25},{"x":2.19,"y":4.15},{"x":2.196,"y":4.2},{"x":2.202,"y":4.15},{"x":2.208,"y":4.2},{"x":2.214,"y":4.15},{"x":2.22,"y":4.2},{"x":2.226,"y":4.1},{"x":2.232,"y":4.15},{"x":2.238,"y":4.1},{"x":2.244,"y":4.15},{"x":2.25,"y":4.05},{"x":2.256,"y":4.1},{"x":2.262,"y":4.05},{"x":2.268,"y":4.1},{"x":2.274,"y":4.0},{"x":2.28,"y":4.05},{"x":2.286,"y":3.95},{"x":2.291,"y":3.5},{"x":2.296,"y":3.4},{"x":2.302,"y":3.35},{"x":2.308,"y":3.4},{"x":2.314,"y":3.3},{"x":2.32,"y":3.35},{"x":2.326,"y":3.25},{"x":2.332,"y":3.3},{"x":2.338,"y":3.2},{"x":2.344,"y":3.25},{"x":2.35,"y":3.15},{"x":2.356,"y":3.2},{"x":2.362,"y":3.1},{"x":2.368,"y":3.05},{"x":2.374,"y":3.1},{"x":2.38,"y":3.0},{"x":2.386,"y":3.0},{"x":2.392,"y":2.95},{"x":2.398,"y":2.95},{"x":2.404,"y":2.85},{"x":2.41,"y":2.9},{"x":2.416,"y":2.8},{"x":2.422,"y":2.85},{"x":2.428,"y":2.75},{"x":2.434,"y":2.8},{"x":2.44,"y":2.7},{"x":2.446,"y":2.65},{"x":2.452,"y":2.7},{"x":2.458,"y":2.6},{"x":2.464,"y":2.55},{"x":2.47,"y":2.6},{"x":2.476,"y":2.5},{"x":2.482,"y":2.45},{"x":2.488,"y":2.55},{"x":2.492,"y":2.35},{"x":2.496,"y":2.6},{"x":2.5,"y":2.5}
    ],
    "blue_l": [
      {"x":2.978,"y":2.75},{"x":2.983,"y":2.3},{"x":2.988,"y":2.1},{"x":2.993,"y":2.55},{"x":2.998,"y":2.7},{"x":3.003,"y":2.25},{"x":3.008,"y":2.45},{"x":3.013,"y":2.15},{"x":3.018,"y":2.5},{"x":3.023,"y":2.35},{"x":3.028,"y":2.65},{"x":3.033,"y":2.2},{"x":3.038,"y":2.4},{"x":3.043,"y":2.05},{"x":3.048,"y":2.45},{"x":3.053,"y":2.3},{"x":3.058,"y":2.6},{"x":3.063,"y":2.7},{"x":3.068,"y":2.35},{"x":3.073,"y":2.2},{"x":3.078,"y":2.45},{"x":3.083,"y":2.6},{"x":3.088,"y":2.25},{"x":3.093,"y":2.75},{"x":3.098,"y":2.5},{"x":3.103,"y":2.3},{"x":3.108,"y":2.4},{"x":3.113,"y":2.2},{"x":3.118,"y":2.55},{"x":3.123,"y":2.65},{"x":3.128,"y":2.4},{"x":3.133,"y":2.5},{"x":3.138,"y":2.25},{"x":3.143,"y":2.35},{"x":3.148,"y":2.55},{"x":3.153,"y":2.3},{"x":3.158,"y":2.7},{"x":3.163,"y":2.45},{"x":3.168,"y":2.3},{"x":3.173,"y":2.55},{"x":3.178,"y":2.4},{"x":3.183,"y":2.5},{"x":3.188,"y":2.25},{"x":3.193,"y":2.15},{"x":3.198,"y":2.55},{"x":3.203,"y":2.9},{"x":3.208,"y":2.6},{"x":3.213,"y":2.1},{"x":3.216,"y":1.57},{"x":3.22,"y":2.35},{"x":3.225,"y":2.75},{"x":3.23,"y":2.45},{"x":3.235,"y":2.6},{"x":3.24,"y":2.3},{"x":3.245,"y":2.55},{"x":3.25,"y":2.4},{"x":3.255,"y":2.65},{"x":3.26,"y":2.5},{"x":3.265,"y":2.3},{"x":3.27,"y":2.45},{"x":3.275,"y":2.15},{"x":3.28,"y":2.4},{"x":3.285,"y":2.55},{"x":3.29,"y":2.35},{"x":3.295,"y":2.6},{"x":3.3,"y":2.7},{"x":3.305,"y":2.5},{"x":3.31,"y":2.75},{"x":3.315,"y":2.45},{"x":3.32,"y":2.3},{"x":3.324,"y":1.67},{"x":3.328,"y":2.05},{"x":3.332,"y":2.35},
      {"x":3.338,"y":2.4},{"x":3.346,"y":2.5},{"x":3.354,"y":2.36},{"x":3.362,"y":2.48},{"x":3.37,"y":2.42},{"x":3.378,"y":2.55},{"x":3.386,"y":2.38},{"x":3.394,"y":2.46},{"x":3.402,"y":2.52},{"x":3.41,"y":2.36},{"x":3.418,"y":2.44},{"x":3.426,"y":2.56},{"x":3.434,"y":2.4},{"x":3.442,"y":2.48},{"x":3.45,"y":2.38},{"x":3.458,"y":2.52},{"x":3.466,"y":2.44},{"x":3.474,"y":2.34},{"x":3.482,"y":2.5},{"x":3.49,"y":2.42},{"x":3.498,"y":2.54},{"x":3.506,"y":2.38},{"x":3.514,"y":2.46},{"x":3.522,"y":2.4},{"x":3.53,"y":2.52},{"x":3.538,"y":2.36},{"x":3.546,"y":2.48},{"x":3.554,"y":2.56},{"x":3.562,"y":2.4},{"x":3.57,"y":2.46},{"x":3.578,"y":2.36},{"x":3.586,"y":2.5},{"x":3.594,"y":2.42},{"x":3.602,"y":2.48},{"x":3.61,"y":2.36},{"x":3.618,"y":2.52},{"x":3.626,"y":2.44},{"x":3.634,"y":2.38},{"x":3.642,"y":2.5},{"x":3.65,"y":2.42},{"x":3.658,"y":2.34},{"x":3.666,"y":2.48},{"x":3.674,"y":2.4},{"x":3.682,"y":2.52},{"x":3.69,"y":2.36},{"x":3.698,"y":2.44},{"x":3.706,"y":2.48},{"x":3.714,"y":2.34},{"x":3.722,"y":2.46},{"x":3.73,"y":2.4},{"x":3.738,"y":2.5},{"x":3.746,"y":2.36},{"x":3.754,"y":2.42},{"x":3.762,"y":2.48},{"x":3.77,"y":2.34},{"x":3.778,"y":2.44},{"x":3.786,"y":2.38},{"x":3.794,"y":2.5},{"x":3.802,"y":2.36},{"x":3.81,"y":2.42},{"x":3.818,"y":2.32},{"x":3.826,"y":2.46},{"x":3.834,"y":2.38},{"x":3.842,"y":2.44},{"x":3.85,"y":2.32},{"x":3.858,"y":2.42},{"x":3.866,"y":2.36},{"x":3.874,"y":2.46},{"x":3.882,"y":2.3},{"x":3.89,"y":2.4},{"x":3.898,"y":2.34},{"x":3.906,"y":2.44},{"x":3.914,"y":2.3},{"x":3.922,"y":2.38},{"x":3.93,"y":2.42},{"x":3.938,"y":2.3},{"x":3.946,"y":2.38},{"x":3.956,"y":2.28}
    ],
    "labels": [
      {"star": "2MASS 0355+11", "params": "= 1478 K, M=15-27 M", "x": 2.75, "y": 6.06},
      {"star": "2MASS 2244+20", "params": "= 1184 K, M=9-12 M", "x": 2.75, "y": 3.815},
      {"star": "WISE 0047+68", "params": "= 1213 K, M=9-15 M", "x": 2.75, "y": 1.054}
    ]
  },
  "encoding": {
    "x": {"field": "x", "type": "quantitative", "scale": {"domain": [0.6505, 4.0794], "nice": false, "zero": false}, "axis": null},
    "y": {
      "field": "y", "type": "quantitative",
      "scale": {"domain": [-1.0, 11.235], "nice": false, "zero": false},
      "axis": {"orient": "left", "values": [0, 2, 4, 6, 8, 10], "format": "d", "labelPadding": 7, "titlePadding": 10, "title": "fλ at 10pc (10⁻¹⁵ W m⁻² μm⁻¹)"}
    }
  },
  "resolve": {"axis": {"x": "independent"}},
  "layer": [
    {
      "data": {"name": "red_nir"},
      "mark": {"type": "line", "color": "#ff0000", "strokeWidth": 1, "interpolate": "step"},
      "encoding": {
        "x": {"field": "x", "type": "quantitative", "scale": {"domain": [0.6505, 4.0794], "nice": false, "zero": false},
          "axis": {"orient": "top", "labels": false, "ticks": false, "domain": true, "title": null, "grid": false}}
      }
    },
    {"data": {"name": "red_l"}, "mark": {"type": "line", "color": "#ff0000", "strokeWidth": 1.5, "interpolate": "linear"}},
    {
      "data": {"name": "blue_nir"},
      "mark": {"type": "line", "color": "#0000ff", "strokeWidth": 1, "interpolate": "step"},
      "encoding": {
        "x": {"field": "x", "type": "quantitative", "scale": {"domain": [0.6505, 4.0794], "nice": false, "zero": false},
          "axis": {"orient": "bottom", "values": [1.0, 1.5, 2.0, 2.5, 3.0, 3.5, 4.0], "format": ".1f", "labelPadding": 6.5, "titlePadding": 6.5, "title": "Wavelength (μm)"}}
      }
    },
    {"data": {"name": "blue_l"}, "mark": {"type": "line", "color": "#0000ff", "strokeWidth": 1.5, "interpolate": "linear"}},
    {"data": {"name": "black_nir"}, "mark": {"type": "line", "color": "#000000", "strokeWidth": 1, "interpolate": "step"}},
    {"data": {"name": "black_l"}, "mark": {"type": "line", "color": "#000000", "strokeWidth": 1.2, "interpolate": "linear"}},
    {
      "data": {"name": "labels"},
      "encoding": {
        "color": {"field": "star", "type": "nominal", "legend": null,
          "scale": {"domain": ["2MASS 0355+11", "2MASS 2244+20", "WISE 0047+68"], "range": ["#ff0000", "#000000", "#0000ff"]}}
      },
      "layer": [
        {"mark": {"type": "text", "align": "left", "baseline": "alphabetic", "fontSize": 18}, "encoding": {"text": {"field": "star"}}},
        {"mark": {"type": "text", "align": "left", "baseline": "alphabetic", "fontSize": 18, "dy": 21, "text": "T"}},
        {"mark": {"type": "text", "align": "left", "baseline": "alphabetic", "fontSize": 12.6, "dx": 11, "dy": 24.5, "text": "eff"}},
        {"mark": {"type": "text", "align": "left", "baseline": "alphabetic", "fontSize": 18, "dx": 32.6, "dy": 21}, "encoding": {"text": {"field": "params"}}},
        {"transform": [{"filter": "datum.star === '2MASS 0355+11'"}], "mark": {"type": "text", "align": "left", "baseline": "alphabetic", "fontSize": 12.6, "dx": 232.3, "dy": 24.5, "text": "Jup"}},
        {"transform": [{"filter": "datum.star !== '2MASS 0355+11'"}], "mark": {"type": "text", "align": "left", "baseline": "alphabetic", "fontSize": 12.6, "dx": 220.9, "dy": 24.5, "text": "Jup"}}
      ]
    }
  ]
}
